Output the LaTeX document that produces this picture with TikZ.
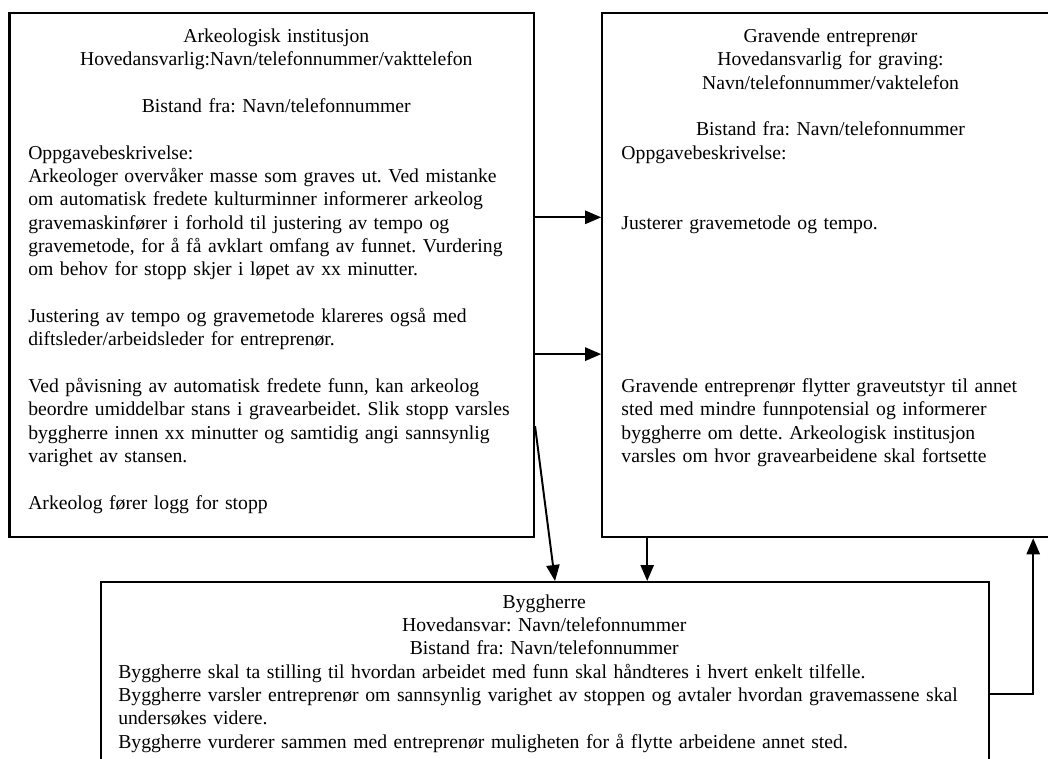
\documentclass[tikz,border=0pt]{standalone}
\usepackage{fontspec}
\setmainfont{Liberation Serif}
\setlength{\parskip}{0pt}
\frenchspacing
\usetikzlibrary{arrows.meta,positioning}

\begin{document}
\begin{tikzpicture}[
        box/.style={rectangle, draw, line width=1.6pt, anchor=north west, inner sep=0pt},
        txt/.style={anchor=north west, inner sep=0pt, align=left, font=\fontsize{14pt}{16.6pt}\selectfont},
        arrow/.style={-{Triangle[length=4mm, width=3.3mm]}, line width=1.4pt}
    ]

    \useasboundingbox (0,0) rectangle (26.2,18.95);

    % Boxes
    \node[box, minimum width=13.11cm, minimum height=13.11cm] (ark) at (0.21, 18.66) {};
    \node[box, minimum width=11.45cm, minimum height=13.11cm] (grav) at (15.03, 18.66) {};
    \node[box, minimum width=22.2cm, minimum height=4.8cm] (bygg) at (2.5, 4.425) {};

    % Arkeologisk institusjon
    \node[txt, text width=12.4cm] (arktxt) at ([xshift=0.49cm, yshift=-0.42cm]ark.north west) {%
        {\centering Arkeologisk institusjon\\
        Hovedansvarlig:Navn/telefonnummer/vakttelefon\\[\baselineskip]
        Bistand fra: Navn/telefonnummer\par}
        \vspace{\baselineskip}
        Oppgavebeskrivelse:\\
        Arkeologer overvåker masse som graves ut. Ved mistanke\\
        om automatisk fredete kulturminner informerer arkeolog\\
        gravemaskinfører i forhold til justering av tempo og\\
        gravemetode, for å få avklart omfang av funnet. Vurdering\\
        om behov for stopp skjer i løpet av xx minutter.\\[\baselineskip]
        Justering av tempo og gravemetode klareres også med\\
        diftsleder/arbeidsleder for entreprenør.\\[\baselineskip]
        Ved påvisning av automatisk fredete funn, kan arkeolog\\
        beordre umiddelbar stans i gravearbeidet. Slik stopp varsles\\
        byggherre innen xx minutter og samtidig angi sannsynlig\\
        varighet av stansen.\\[\baselineskip]
        Arkeolog fører logg for stopp};

    % Gravende entreprenor
    \node[txt, text width=10.45cm] (gravtxt) at ([xshift=0.5cm, yshift=-0.42cm]grav.north west) {%
        {\centering Gravende entreprenør\\
        Hovedansvarlig for graving:\\
        Navn/telefonnummer/vaktelefon\\[\baselineskip]
        Bistand fra: Navn/telefonnummer\par}
        Oppgavebeskrivelse:\\[2\baselineskip]
        Justerer gravemetode og tempo.\\[6\baselineskip]
        Gravende entreprenør flytter graveutstyr til annet\\
        sted med mindre funnpotensial og informerer\\
        byggherre om dette. Arkeologisk institusjon\\
        varsles om hvor gravearbeidene skal fortsette};

    % Byggherre
    \node[txt, text width=21.3cm] (byggtxt) at ([xshift=0.45cm, yshift=-0.33cm]bygg.north west) {%
        {\centering Byggherre\\
        Hovedansvar: Navn/telefonnummer\\
        Bistand fra: Navn/telefonnummer\par}
        Byggherre skal ta stilling til hvordan arbeidet med funn skal håndteres i hvert enkelt tilfelle.\\
        Byggherre varsler entreprenør om sannsynlig varighet av stoppen og avtaler hvordan gravemassene skal\\
        undersøkes videre.\\
        Byggherre vurderer sammen med entreprenør muligheten for å flytte arbeidene annet sted.};

    % Connectors
    \draw[arrow] ([yshift=1.44cm]ark.east) -- ([yshift=1.44cm]ark.east -| grav.west);
    \draw[arrow] ([yshift=-1.98cm]ark.east) -- ([yshift=-1.98cm]ark.east -| grav.west);
    \draw[arrow] ([yshift=-3.78cm]ark.east) -- ([xshift=11.375cm]bygg.north west);
    \draw[arrow] ([xshift=1.15cm]grav.south west) -- ([xshift=1.15cm]grav.south west |- bygg.north);
    \draw[arrow] ([yshift=-2.825cm]bygg.north east) -| ([xshift=10.8cm]grav.south west);

\end{tikzpicture}
\end{document}
